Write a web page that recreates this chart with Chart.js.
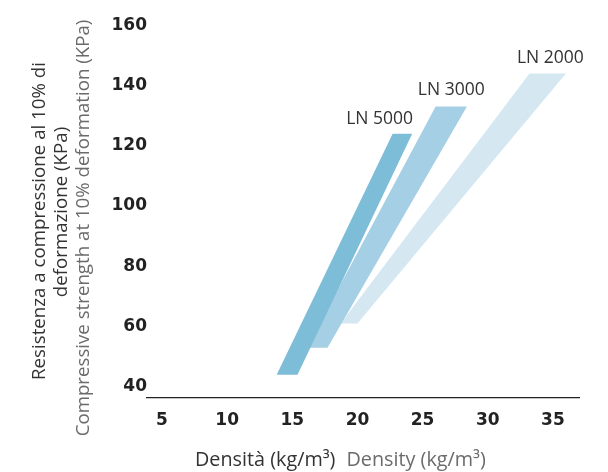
<!DOCTYPE html>
<html>
<head>
<meta charset="utf-8">
<script src="https://cdn.jsdelivr.net/npm/chart.js@4.4.1/dist/chart.umd.min.js"></script>
<style>
  html, body { margin: 0; padding: 0; background: #fff; }
  #wrap { width: 608px; height: 472px; position: relative; }
</style>
</head>
<body>
<div id="wrap"><canvas id="chart"></canvas></div>
<script>
// dati
const bandNames = ['LN 5000', 'LN 3000', 'LN 2000'];
const bandColors = ['#7ebdd8', '#a5cfe4', '#d5e8f2'];
const bottomY = [44, 53, 61];
const topY = [124, 133, 144];
const bottomX = [[13.8, 15.4], [16.1, 17.7], [18.7, 20.0]];
const topX = [[22.7, 24.2], [26.0, 28.4], [33.2, 36.0]];
const labelX = [21.7, 27.2, 34.8];
const labelY = [129, 138.5, 149];
const xTicks = [5, 10, 15, 20, 25, 30, 35];
const yTicks = [40, 60, 80, 100, 120, 140, 160];

const yTitle = ['Resistenza a compressione al 10% di', 'deformazione (KPa)'];
const yTitleEn = 'Compressive strength at 10% deformation (KPa)';
const xTitle = 'Densità (kg/m³)';
const xTitleEn = 'Density (kg/m³)';

// costruisce i parallelogrammi
const datasets = bandNames.map((name, i) => ({
    label: name,
    data: [
        { x: bottomX[i][0], y: bottomY[i] },
        { x: bottomX[i][1], y: bottomY[i] },
        { x: topX[i][1], y: topY[i] },
        { x: topX[i][0], y: topY[i] },
        { x: bottomX[i][0], y: bottomY[i] }
    ],
    showLine: true,
    fill: 'shape',
    backgroundColor: bandColors[i],
    borderColor: bandColors[i],
    borderWidth: 0,
    pointRadius: 0,
    pointHoverRadius: 0
}));

// testi: etichette serie e titoli assi
const textPlugin = {
    id: 'texts',
    afterDatasetsDraw(chart) {
        const ctx = chart.ctx;
        const xs = chart.scales.x;
        const ys = chart.scales.y;
        ctx.save();
        ctx.font = '17.5px "Open Sans"';
        ctx.fillStyle = '#333';
        ctx.textAlign = 'center';
        ctx.textBaseline = 'middle';
        bandNames.forEach((name, i) => {
            ctx.fillText(name, xs.getPixelForValue(labelX[i]), ys.getPixelForValue(labelY[i]));
        });

        // titolo asse y
        const lines = [
            { text: yTitle[0], x: 40, y: 221, color: '#333' },
            { text: yTitle[1], x: 62, y: 212, color: '#333' },
            { text: yTitleEn, x: 84, y: 228, color: '#6b6b6b' }
        ];
        ctx.font = '18.7px "Open Sans"';
        lines.forEach(l => {
            ctx.save();
            ctx.translate(l.x, l.y);
            ctx.rotate(-Math.PI / 2);
            ctx.fillStyle = l.color;
            ctx.fillText(l.text, 0, 0);
            ctx.restore();
        });

        // titolo asse x
        ctx.font = '19.8px "Open Sans"';
        ctx.textAlign = 'left';
        let x = 195;
        ctx.fillStyle = '#333';
        ctx.fillText(xTitle, x, 460);
        x += ctx.measureText(xTitle).width + 11;
        ctx.fillStyle = '#6b6b6b';
        ctx.fillText(xTitleEn, x, 460);
        ctx.restore();
    }
};

const tickFont = { family: '"DejaVu Sans"', size: 17, weight: 'bold' };

new Chart(document.getElementById('chart'), {
    type: 'scatter',
    data: { datasets: datasets },
    options: {
        responsive: true,
        maintainAspectRatio: false,
        animation: false,
        layout: { padding: { top: 10, right: 29, left: 0, bottom: 0 } },
        plugins: {
            legend: { display: false },
            tooltip: { enabled: false }
        },
        scales: {
            x: {
                type: 'linear',
                min: 3.85,
                max: 37,
                grid: { display: false, drawTicks: false },
                border: { display: true, color: '#222', width: 1.2 },
                ticks: { font: tickFont, color: '#222', padding: 12 },
                afterBuildTicks: axis => { axis.ticks = xTicks.map(v => ({ value: v })); },
                afterFit: axis => { axis.height = 74; }
            },
            y: {
                type: 'linear',
                min: 36.3,
                max: 165,
                grid: { display: false, drawTicks: false },
                border: { display: false },
                ticks: { font: tickFont, color: '#222', padding: 0 },
                afterBuildTicks: axis => { axis.ticks = yTicks.map(v => ({ value: v })); },
                afterFit: axis => { axis.width = 147; }
            }
        }
    },
    plugins: [textPlugin]
});
</script>
</body>
</html>
